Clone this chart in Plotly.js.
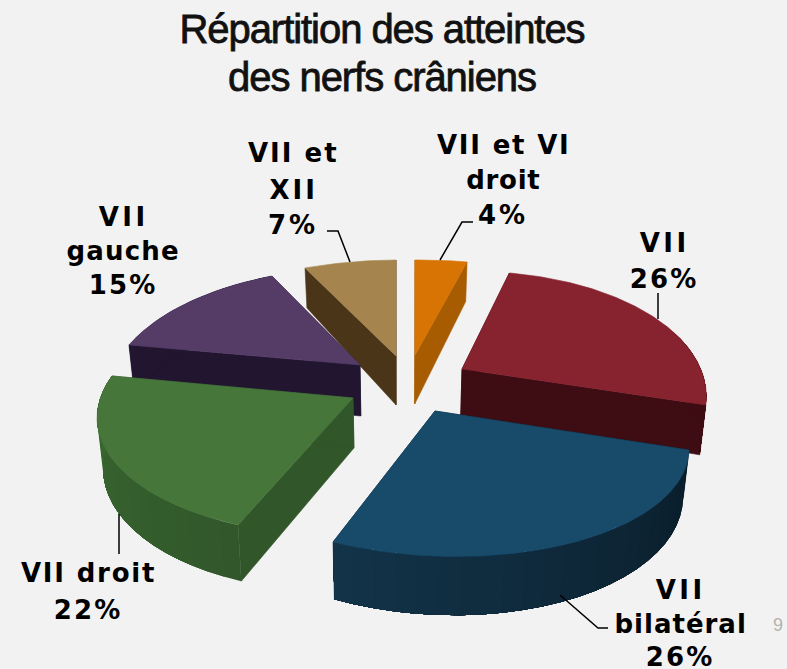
<!DOCTYPE html>
<html><head><meta charset="utf-8">
<script src="https://cdn.plot.ly/plotly-3.0.1.min.js"></script>
<style>html,body{margin:0;padding:0;background:#f2f2f2}</style></head>
<body><div id="chart" style="width:787px;height:669px"></div>
<script>
// ---- data (clockwise from 12 o'clock) ----
const categories = ["VII et VI droit","VII","VII bilatéral","VII droit","VII gauche","VII et XII"];
const values = [4,26,26,22,15,7];
const titleText = "Répartition des atteintes<br>des nerfs crâniens";
const pageNumber = "9";

// ---- styles ----
const topColors  = ["#d87404","#87222f","#184a69","#46763a","#553c67","#a5844e"];
const wallStart  = ["#a85c02","#3e0c13","#133349","#3a6a31","#211530","#4a3519"];
const wallEnd    = ["#a85c02","#3e0c13","#091c28","#31562a","#211530","#4a3519"];
const DROP_X = 400, DROP_K = 0.98;
// placement of each exploded 3-D slice: apex, perspective, scale terms, wall height
const place = [
 {ax:415,ay:355,k:.25,a:260,b:0,c:118.75,d:-2,h:49},
 {ax:462,ay:369,k:.25,a:236.6,b:0,c:121.9,d:-4.7,h:46},
 {ax:435,ay:411,k:.25,a:242.6,b:-11.9,c:109.1,d:2.4,h:44},
 {ax:353,ay:398,k:.12,a:252.7,b:9.8,c:121.2,d:-0.2,h:50},
 {ax:360,ay:365,k:.25,a:245.5,b:-3.8,c:121.5,d:-1.9,h:51},
 {ax:396,ay:356,k:.25,a:262,b:0,c:120,d:-1.5,h:49}
];
const drawOrder = [0,5,4,1,3,2];
// text lines of each label: [slice, line text, centre x, centre y, letter spacing]
const labelLines = [
 [0,"VII et VI",503,145,1.8],[0,"droit",503,180,0.7],[0,"%",503,215,3],
 [5,"VII et",293,153,2],[5,"XII",293,190,3],[5,"%",293,225,3],
 [4,"VII",123,217,3.5],[4,"gauche",123,251,1.2],[4,"%",123,285,2.2],
 [1,"VII",664,243,3.5],[1,"%",664,279,2.2],
 [3,"VII droit",88,573,1.8],[3,"%",88,610,2.2],
 [2,"VII",680,590,3.5],[2,"bilatéral",680,624,1],[2,"%",680,657,2.2]
];
const leaders = [
 [[327,338,350],[231,231,262]],
 [[473,462,440],[222,222,260]],
 [[658,658],[293,319]],
 [[119,119],[514,554]],
 [[560,598,608],[595,628,628]]
];

// ---- geometry derived from the values ----
const total = values.reduce((s,v)=>s+v,0);
const rad = Math.PI/180;
function topPt(p,deg){
  const t=deg*rad, s=1/(1+p.k*Math.cos(t));
  const sx=Math.sin(t)*s, cy=Math.cos(t)*s;
  return [p.ax+p.a*sx+p.b*cy, p.ay-p.c*cy+p.d*sx, s];
}
function botPt(p,deg){
  const q=topPt(p,deg);
  return [DROP_X+(q[0]-DROP_X)*DROP_K, q[1]+p.h*q[2]];
}
function apexBottom(p){ return [DROP_X+(p.ax-DROP_X)*DROP_K, p.ay+p.h]; }
function hex(c){return [1,3,5].map(i=>parseInt(c.substr(i,2),16));}
function mix(c1,c2,f){const A=hex(c1),B=hex(c2);return "rgb("+A.map((v,i)=>Math.round(v+(B[i]-v)*f)).join(",")+")";}
function poly(pts,color,lw){
  return {type:"scatter",mode:"lines",x:pts.map(p=>p[0]).concat(pts[0][0]),y:pts.map(p=>p[1]).concat(pts[0][1]),
    fill:"toself",fillcolor:color,line:{color:color,width:lw},hoverinfo:"skip",showlegend:false};
}
let cum=0; const spans=values.map(v=>{const s=[cum*360/total,(cum+v)*360/total];cum+=v;return s;});
const traces=[];
drawOrder.forEach(i=>{
  const p=place[i],[a0,a1]=spans[i];
  // cut walls
  [a0,a1].forEach(ang=>{
    const q=topPt(p,ang),r=botPt(p,ang);
    traces.push(poly([[p.ax,p.ay],q,r,apexBottom(p)], wallEnd[i],0.6));
  });
  // outer wall, shaded along the arc: each band reaches to the slice's end and the next one
  // is painted over it, so no seam shows between bands
  const n=Math.max(2,Math.ceil((a1-a0)/4));
  for(let k=0;k<n;k++){
    const mid=a0+(a1-a0)*(k+.5)/n;
    if(Math.cos(mid*rad)>0.35) continue;
    const upper=[],lower=[];
    for(let j=k;j<=n;j++){const u=a0+(a1-a0)*j/n;upper.push(topPt(p,u));lower.unshift(botPt(p,u));}
    traces.push(poly(upper.concat(lower),mix(wallStart[i],wallEnd[i],(a1-mid)/(a1-a0)),0));
  }
  // top face
  const face=[[p.ax,p.ay]];
  const m=Math.ceil(a1-a0);
  for(let k=0;k<=m;k++) face.push(topPt(p,a0+(a1-a0)*k/m));
  traces.push(poly(face,topColors[i],0.6));
});
leaders.forEach(l=>traces.push({type:"scatter",mode:"lines",x:l[0],y:l[1],line:{color:"#000",width:1.5},hoverinfo:"skip",showlegend:false}));

const labelFont={family:"DejaVu Sans, Verdana, sans-serif",size:26,color:"#000"};
const annotations=labelLines.map(([i,t,x,y])=>({
  xref:"x",yref:"y",x:x,y:y,showarrow:false,xanchor:"center",yanchor:"middle",
  text:"<b>"+(t==="%"?values[i]+"%":t)+"</b>",font:labelFont
}));
annotations.push({xref:"x",yref:"y",x:778,y:625,showarrow:false,text:pageNumber,font:{family:"Liberation Sans, Arial, sans-serif",size:18,color:"#b3b3ac"}});

Plotly.newPlot("chart",traces,{
  width:787,height:669,margin:{l:0,r:0,t:0,b:0},
  paper_bgcolor:"#f2f2f2",plot_bgcolor:"#f2f2f2",showlegend:false,
  title:{text:titleText,x:382/787,xanchor:"center",y:0.935,yanchor:"bottom",
    font:{family:"Liberation Sans, Arial, sans-serif",size:40,color:"#111"}},
  xaxis:{range:[0,787],visible:false,fixedrange:true},
  yaxis:{range:[669,0],visible:false,fixedrange:true},
  annotations:annotations
},{displayModeBar:false,staticPlot:true}).then(()=>{
  document.querySelectorAll(".annotation").forEach(a=>{
    const line=labelLines[+a.getAttribute("data-index")];
    const t=a.querySelector("text");
    if(line&&t) t.style.letterSpacing=line[4]+"px";
  });
  const title=document.querySelector(".gtitle");
  if(title){
    title.style.letterSpacing="-1.05px";
    title.style.stroke="#111";
    title.style.strokeWidth="0.8px";
    title.querySelectorAll("tspan.line").forEach((s,idx)=>{
      if(idx>0) s.setAttribute("dy",(idx*1.2)+"em");
    });
  }
});
</script></body></html>
